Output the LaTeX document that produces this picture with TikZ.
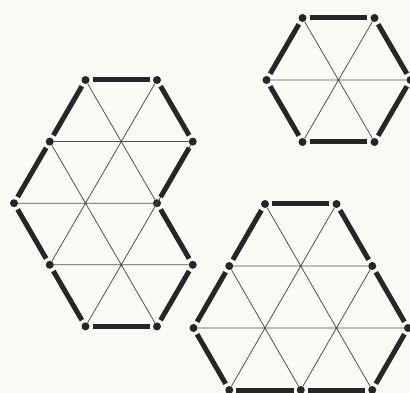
\documentclass[tikz,border=0pt]{standalone}
\usepackage{xcolor}
\definecolor{paper}{RGB}{251,251,245}
\definecolor{ink}{RGB}{38,38,38}
\definecolor{thinink}{RGB}{80,80,80}
\tikzset{
  vdot/.style={circle,fill=ink,inner sep=0pt,minimum size=8pt},
  idot/.style={circle,fill=thinink,inner sep=0pt,minimum size=1.5pt},
  bar/.style={draw=ink,line width=5pt,shorten >=3pt,shorten <=3pt},
  grid/.style={draw=thinink,line width=0.8pt}
}
\begin{document}
\begin{tikzpicture}[x=1pt,y=-1pt]
\useasboundingbox (0,0) rectangle (410,393);
\fill[paper] (0,0) rectangle (410,393);
% ---- left shape
\node[vdot] (L1a) at (85.5,80) {};
\node[vdot] (L1b) at (157,80) {};
\node[vdot] (L2a) at (49.75,141.6) {};
\node[idot] (L2c) at (121.25,141.6) {};
\node[vdot] (L2b) at (192.75,141.6) {};
\node[vdot] (L3a) at (14,203.2) {};
\node[idot] (L3c) at (85.5,203.2) {};
\node[vdot] (L3b) at (157,203.2) {};
\node[vdot] (L4a) at (49.75,264.8) {};
\node[idot] (L4c) at (121.25,264.8) {};
\node[vdot] (L4b) at (192.75,264.8) {};
\node[vdot] (L5a) at (85.5,326.4) {};
\node[vdot] (L5b) at (157,326.4) {};
\path[grid] (L2a) -- (L2b) (L3a) -- (L3b) (L4a) -- (L4b)
  (L1a) -- (L3b) (L1b) -- (L4a) (L2a) -- (L5b) (L5a) -- (L2b);
\path[bar] (L1a) -- (L1b);
\path[bar] (L1b) -- (L2b);
\path[bar] (L2b) -- (L3b);
\path[bar] (L3b) -- (L4b);
\path[bar] (L4b) -- (L5b);
\path[bar] (L5b) -- (L5a);
\path[bar] (L5a) -- (L4a);
\path[bar] (L4a) -- (L3a);
\path[bar] (L3a) -- (L2a);
\path[bar] (L2a) -- (L1a);
% ---- top right hexagon
\node[vdot] (T1) at (302.5,18) {};
\node[vdot] (T2) at (374.5,18) {};
\node[vdot] (T3) at (410.5,80) {};
\node[vdot] (T4) at (374.5,142) {};
\node[vdot] (T5) at (302.5,142) {};
\node[vdot] (T6) at (266.5,80) {};
\node[idot] (Tc) at (338.5,80) {};
\path[grid] (T1) -- (T4) (T2) -- (T5) (T6) -- (T3);
\path[bar] (T1) -- (T2);
\path[bar] (T2) -- (T3);
\path[bar] (T3) -- (T4);
\path[bar] (T4) -- (T5);
\path[bar] (T5) -- (T6);
\path[bar] (T6) -- (T1);
% ---- bottom right shape
\node[vdot] (B1a) at (265,204) {};
\node[vdot] (B1b) at (336.5,204) {};
\node[vdot] (B2a) at (229.25,266) {};
\node[idot] (B2c) at (300.75,266) {};
\node[vdot] (B2b) at (372.25,266) {};
\node[vdot] (B3a) at (193.5,328) {};
\node[idot] (B3c) at (265,328) {};
\node[idot] (B3d) at (336.5,328) {};
\node[vdot] (B3b) at (408,328) {};
\node[vdot] (B4a) at (229.25,390) {};
\node[vdot] (B4b) at (300.75,390) {};
\node[vdot] (B4c) at (372.25,390) {};
\path[grid] (B2a) -- (B2b) (B3a) -- (B3b)
  (B1a) -- (B4c) (B1b) -- (B4a) (B2a) -- (B4b) (B2b) -- (B4b);
\path[bar] (B1a) -- (B1b);
\path[bar] (B1b) -- (B2b);
\path[bar] (B2b) -- (B3b);
\path[bar] (B3b) -- (B4c);
\path[bar] (B4c) -- (B4b);
\path[bar] (B4b) -- (B4a);
\path[bar] (B4a) -- (B3a);
\path[bar] (B3a) -- (B2a);
\path[bar] (B2a) -- (B1a);
\end{tikzpicture}
\end{document}
